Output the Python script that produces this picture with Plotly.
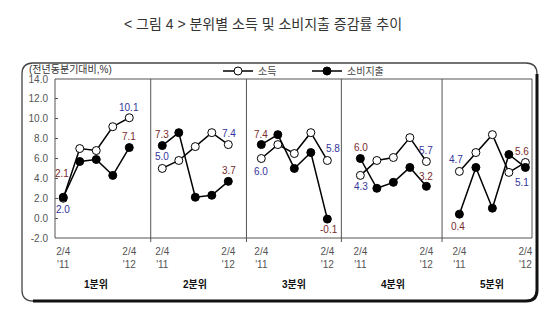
import plotly.graph_objects as go

# ---------------- data ----------------
panels = ["1분위", "2분위", "3분위", "4분위", "5분위"]
quarters = ["2/4<br>'11", "", "", "", "2/4<br>'12"]

income = [
    [2.0, 7.0, 6.8, 9.2, 10.1],
    [5.0, 5.8, 7.2, 8.6, 7.4],
    [6.0, 7.4, 6.5, 8.6, 5.8],
    [4.3, 5.8, 6.1, 8.1, 5.7],
    [4.7, 6.6, 8.4, 4.6, 5.6],
]
consumption = [
    [2.1, 5.7, 5.9, 4.3, 7.1],
    [7.3, 8.6, 2.1, 2.3, 3.7],
    [7.4, 8.4, 5.0, 6.6, -0.1],
    [6.0, 3.0, 3.6, 5.1, 3.2],
    [0.4, 5.1, 1.0, 6.4, 5.1],
]
# data labels (first, last) as printed in the chart
income_labels = [(2.0, 10.1), (5.0, 7.4), (6.0, 5.8), (4.3, 5.7), (4.7, 5.1)]
consumption_labels = [(2.1, 7.1), (7.3, 3.7), (7.4, -0.1), (6.0, 3.2), (0.4, 5.6)]

y_tick_vals = [-2, 0, 2, 4, 6, 8, 10, 12, 14]
y_tick_labels = ["-2.0", "0.0", "2.0", "4.0", "6.0", "8.0", "10.0", "12.0", "14.0"]

# ---------------- layout helpers ----------------
W, H = 560, 328
L, R, T, B = 55, 532, 79, 238
PERIOD = 6
FONT = "Liberation Sans, Noto Sans CJK KR, sans-serif"
BLUE = "#34349c"
RED = "#7a2c2c"

def px(xp):
    return (xp - L) / (R - L)

def py(yp):
    return (B - yp) / (B - T)

xs_all, inc_all, con_all = [], [], []
for k in range(len(panels)):
    for j in range(5):
        xs_all.append(k * PERIOD + j)
        inc_all.append(income[k][j])
        con_all.append(consumption[k][j])
    xs_all.append(None)
    inc_all.append(None)
    con_all.append(None)

fig = go.Figure()
fig.add_trace(go.Scatter(
    x=xs_all, y=inc_all, name="소득", mode="lines+markers",
    line=dict(color="black", width=1.5),
    marker=dict(symbol="circle", size=8, color="white", line=dict(color="black", width=1)),
    connectgaps=False,
))
fig.add_trace(go.Scatter(
    x=xs_all, y=con_all, name="소비지출", mode="lines+markers",
    line=dict(color="black", width=1.5),
    marker=dict(symbol="circle", size=8, color="black", line=dict(color="black", width=1)),
    connectgaps=False,
))

annotations = []
# label offsets (xshift, yshift) per panel: income first, income last, cons first, cons last
offsets = [
    [(0, -11), (0, 10), (-1, 24), (0, 11)],
    [(0, 12), (1, 11), (0, 11), (1, 11)],
    [(0, -13), (6, 12), (0, 10), (2, -10)],
    [(1, -11), (0, 11), (1, 11), (0, 10)],
    [(-3, 12), (-3, -15), (-1, -12), (-3, 11)],
]
for k in range(len(panels)):
    entries = [
        (k * PERIOD, income_labels[k][0], BLUE, offsets[k][0]),
        (k * PERIOD + 4, income_labels[k][1], BLUE, offsets[k][1]),
        (k * PERIOD, consumption_labels[k][0], RED, offsets[k][2]),
        (k * PERIOD + 4, consumption_labels[k][1], RED, offsets[k][3]),
    ]
    for xv, val, col, (dx, dy) in entries:
        annotations.append(dict(
            x=xv, y=val, xref="x", yref="y", text=f"{val:.1f}",
            showarrow=False, xshift=dx, yshift=dy, xanchor="center", yanchor="middle",
            font=dict(family=FONT, size=10, color=col),
        ))
    annotations.append(dict(
        x=k * PERIOD + 2, y=py(284), xref="x", yref="paper", text=f"<b>{panels[k]}</b>",
        showarrow=False, xanchor="center", yanchor="middle",
        font=dict(family=FONT, size=10, color="#111"),
    ))

# title
annotations.append(dict(
    x=px(263), y=py(24), xref="paper", yref="paper", xanchor="center", yanchor="middle",
    text="< 그림 4 > 분위별 소득 및 소비지출 증감률 추이",
    showarrow=False, font=dict(family=FONT, size=14, color="#333"),
))
# unit label
annotations.append(dict(
    x=px(27), y=py(69), xref="paper", yref="paper", xanchor="left", yanchor="middle",
    text="(전년동분기대비,%)", showarrow=False,
    font=dict(family=FONT, size=10, color="#333"),
))

shapes = []
# plot frame
shapes.append(dict(type="rect", xref="paper", yref="paper", x0=0, x1=1, y0=0, y1=1,
                   line=dict(color="#555", width=1)))
# separators
for sx in [5.3, 11.1, 16.85, 22.95]:
    shapes.append(dict(type="line", xref="x", yref="paper", x0=sx, x1=sx,
                       y0=py(242), y1=1, line=dict(color="#555", width=1)))

# outer rounded frame
fl, ft, fr, fb, rr = 22, 63, 537, 301, 11
def P(xp, yp):
    return f"{px(xp):.5f},{py(yp):.5f}"
path = (f"M {P(fl + rr, ft)} L {P(fr - rr, ft)} Q {P(fr, ft)} {P(fr, ft + rr)} "
        f"L {P(fr, fb - rr)} Q {P(fr, fb)} {P(fr - rr, fb)} "
        f"L {P(fl + rr, fb)} Q {P(fl, fb)} {P(fl, fb - rr)} "
        f"L {P(fl, ft + rr)} Q {P(fl, ft)} {P(fl + rr, ft)} Z")
shapes.append(dict(type="path", xref="paper", yref="paper", path=path,
                   line=dict(color="#444", width=1.3)))
path2 = (f"M {P(fr, ft + rr)} L {P(fr, fb - rr)} Q {P(fr, fb)} {P(fr - rr, fb)} "
         f"L {P(fl + rr, fb)}")
shapes.append(dict(type="path", xref="paper", yref="paper", path=path2,
                   line=dict(color="#111", width=3)))

tickvals, ticktext = [], []
for k in range(len(panels)):
    for j in (0, 4):
        tickvals.append(k * PERIOD + j)
        ticktext.append(quarters[j])

fig.update_layout(
    width=W, height=H,
    margin=dict(l=L, r=W - R, t=T, b=H - B),
    paper_bgcolor="white", plot_bgcolor="white",
    showlegend=True,
    legend=dict(orientation="h", x=px(218), y=py(71), xanchor="left", yanchor="middle",
                font=dict(family=FONT, size=10, color="#444"), itemwidth=30,
                bgcolor="rgba(0,0,0,0)", entrywidth=44, entrywidthmode="pixels"),
    xaxis=dict(range=[-0.5, 28.4], tickvals=tickvals, ticktext=ticktext,
               showgrid=False, zeroline=False, showline=False, ticks="",
               ticklabelstandoff=6,
               tickfont=dict(family=FONT, size=10, color="#555")),
    yaxis=dict(range=[-2, 14], tickvals=y_tick_vals, ticktext=y_tick_labels,
               showgrid=False, zeroline=False, showline=False, ticks="inside", ticklen=3,
               tickcolor="#555", ticklabelstandoff=6,
               tickfont=dict(family=FONT, size=10, color="#555")),
    annotations=annotations,
    shapes=shapes,
)

fig.write_html("out.html")
